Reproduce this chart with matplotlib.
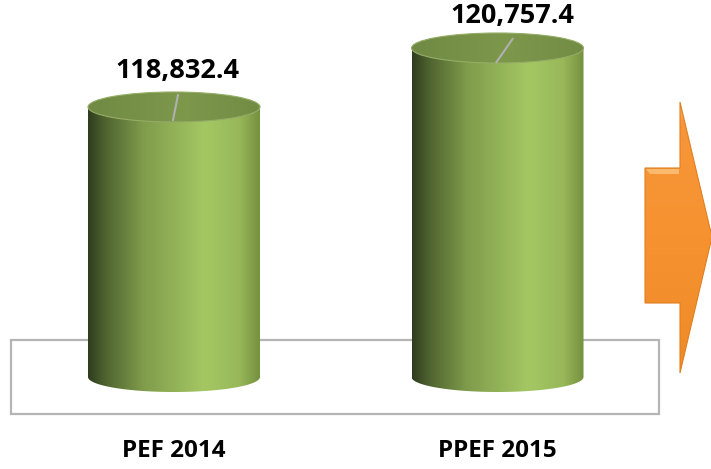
import numpy as np
import matplotlib.pyplot as plt
from matplotlib.patches import Polygon, Ellipse, Rectangle
from matplotlib.colors import LinearSegmentedColormap

# data
categories = ['PEF 2014', 'PPEF 2015']
values = [118832.4, 120757.4]
value_labels = ['118,832.4', '120,757.4']

# layout (pixels)
W, H = 711, 469
x_first, x_step = 174, 323.5
half_w, ry = 86, 15
base_px = 377
base_val = 110023.0
px_per_unit = 59 / 1925
label_off = [(3, -36), (15, -32)]        # label centre relative to top centre
leader = [((4, -12), (-1, 13)), ((15, -9), (-1, 14))]

fig = plt.figure(figsize=(W / 100, H / 100), dpi=100)
ax = fig.add_axes([0, 0, 1, 1])
ax.axis('off')


def py(p):
    """pixel row -> value units"""
    return base_val + (base_px - p) / px_per_unit


def dv(p):
    return p / px_per_unit


def to_px(v):
    return base_px - (v - base_val) * px_per_unit


body_cmap = LinearSegmentedColormap.from_list('body', [
    (0.0, '#2f3d1e'), (0.10, '#4f6330'), (0.32, '#7f9c4b'),
    (0.68, '#a5c763'), (0.88, '#98b859'), (1.0, '#76913f')])
top_cmap = LinearSegmentedColormap.from_list('top', [
    (0.0, '#708a44'), (0.55, '#7d984b'), (1.0, '#728c45')])
grad = np.linspace(0, 1, 256).reshape(1, -1)

# floor box
ax.add_patch(Rectangle((11, py(414)), 648, dv(74), fill=False,
                       ec='#b5b5b5', lw=1.6, zorder=1))

for i, (cat, val, lab) in enumerate(zip(categories, values, value_labels)):
    xc = x_first + i * x_step
    x0, x1 = xc - half_w, xc + half_w
    t = np.linspace(np.pi, 2 * np.pi, 80)
    pts = list(zip(xc + half_w * np.cos(t), base_val + dv(ry) * np.sin(t)))
    pts += [(x1, val), (x0, val)]
    body = Polygon(pts, closed=True, fc='none', ec='none', zorder=2)
    ax.add_patch(body)
    im = ax.imshow(grad, extent=[x0, x1, base_val - dv(ry), val],
                   aspect='auto', cmap=body_cmap, zorder=2)
    im.set_clip_path(body)

    top = Ellipse((xc, val), 2 * half_w, 2 * dv(ry), fc='none',
                  ec='#95ad66', lw=0.8, zorder=4)
    ax.add_patch(top)
    im2 = ax.imshow(grad, extent=[x0, x1, val - dv(ry), val + dv(ry)],
                    aspect='auto', cmap=top_cmap, zorder=3)
    im2.set_clip_path(top)

    tp = to_px(val)
    (ax0, ay0), (ax1, ay1) = leader[i]
    ax.plot([xc + ax0, xc + ax1], [py(tp + ay0), py(tp + ay1)],
            color='#b0b0b0', lw=1.5, zorder=5)
    lx, ly = label_off[i]
    ax.text(xc + lx, py(tp + ly), lab, ha='center', va='center',
            fontsize=19.5, fontweight='bold', family='Open Sans', zorder=6)
    ax.text(xc, py(451), cat, ha='center', va='center',
            fontsize=17.5, fontweight='bold', family='Open Sans')

# orange arrow
arrow_px = [(645, 168), (680, 168), (680, 102), (712, 237),
            (680, 373), (680, 303), (645, 303)]
arrow = Polygon([(x, py(y)) for x, y in arrow_px], closed=True,
                fc='none', ec='#e07f20', lw=0.8, zorder=3)
ax.add_patch(arrow)
arrow_cmap = LinearSegmentedColormap.from_list('arrow', [
    (0.0, '#ee8a27'), (0.5, '#f6922f'), (0.93, '#f7963a'), (1.0, '#fbb66c')])
im3 = ax.imshow(np.linspace(0, 1, 256).reshape(-1, 1)[::-1],
                extent=[645, 712, py(373), py(102)], aspect='auto',
                cmap=arrow_cmap, origin='upper', zorder=2)
im3.set_clip_path(arrow)
# bevel highlight on body top
ax.add_patch(Polygon([(646, py(169)), (679, py(169)), (679, py(174)), (650, py(174))],
                     closed=True, fc='#fbb96e', ec='none', zorder=3))

ax.set_xlim(0, W)
ax.set_ylim(py(H), py(0))

fig.savefig('out.png', dpi=100)
